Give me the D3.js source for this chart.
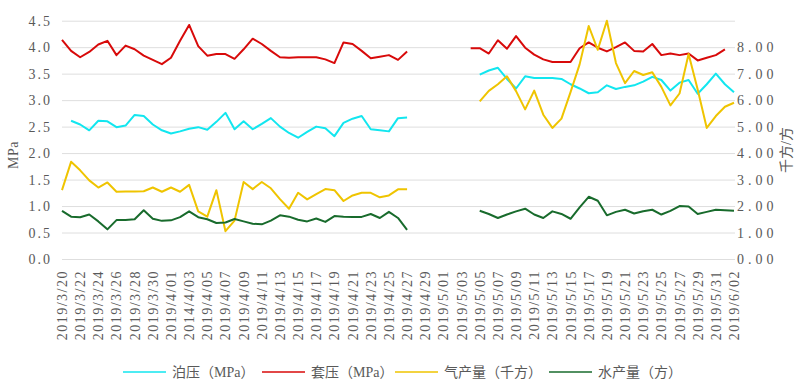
<!DOCTYPE html>
<html>
<head>
<meta charset="utf-8">
<script src="https://cdn.jsdelivr.net/npm/d3@7"></script>
<style>
  body { margin: 0; background: #fff; }
</style>
</head>
<body>
<div id="chart"></div>
<script>
const dates = [
  '2019/3/20','2019/3/21','2019/3/22','2019/3/23','2019/3/24','2019/3/25','2019/3/26','2019/3/27','2019/3/28','2019/3/29','2019/3/30','2019/3/31',
  '2019/4/01','2019/4/02','2019/4/03','2019/4/04','2019/4/05','2019/4/06','2019/4/07','2019/4/08','2019/4/09','2019/4/10',
  '2019/4/11','2019/4/12','2019/4/13','2019/4/14','2019/4/15','2019/4/16','2019/4/17','2019/4/18','2019/4/19','2019/4/20',
  '2019/4/21','2019/4/22','2019/4/23','2019/4/24','2019/4/25','2019/4/26','2019/4/27','2019/4/28','2019/4/29','2019/4/30',
  '2019/5/01','2019/5/02','2019/5/03','2019/5/04','2019/5/05','2019/5/06','2019/5/07','2019/5/08','2019/5/09','2019/5/10',
  '2019/5/11','2019/5/12','2019/5/13','2019/5/14','2019/5/15','2019/5/16','2019/5/17','2019/5/18','2019/5/19','2019/5/20',
  '2019/5/21','2019/5/22','2019/5/23','2019/5/24','2019/5/25','2019/5/26','2019/5/27','2019/5/28','2019/5/29','2019/5/30',
  '2019/5/31','2019/6/01','2019/6/02'
];

// every second date is labelled (the 4/03 label reads 2014 in the source)
const tickLabels = [
  '2019/3/20','2019/3/22','2019/3/24','2019/3/26','2019/3/28','2019/3/30','2019/4/01','2014/4/03','2019/4/05','2019/4/07',
  '2019/4/09','2019/4/11','2019/4/13','2019/4/15','2019/4/17','2019/4/19','2019/4/21','2019/4/23','2019/4/25','2019/4/27',
  '2019/4/29','2019/5/01','2019/5/03','2019/5/05','2019/5/07','2019/5/09','2019/5/11','2019/5/13','2019/5/15','2019/5/17',
  '2019/5/19','2019/5/21','2019/5/23','2019/5/25','2019/5/27','2019/5/29','2019/5/31','2019/6/02'
];

const leftTicks = [0, 0.5, 1, 1.5, 2, 2.5, 3, 3.5, 4, 4.5];
const rightTicks = [0, 1, 2, 3, 4, 5, 6, 7, 8];

// 泊压 (MPa, left axis)
const tubing = [
  null, 2.61, 2.54, 2.43, 2.61, 2.60, 2.49, 2.52, 2.72, 2.70, 2.54, 2.43, 2.37, 2.41, 2.46, 2.49, 2.44, 2.59, 2.76, 2.45,
  2.60, 2.45, 2.55, 2.66, 2.50, 2.38, 2.29, 2.40, 2.50, 2.47, 2.32, 2.57, 2.65, 2.70, 2.45, 2.43, 2.41, 2.66, 2.67,
  null, null, null, null, null, null, null,
  3.48, 3.56, 3.61, 3.40, 3.22, 3.45, 3.42, 3.42, 3.42, 3.40, 3.30, 3.22, 3.13, 3.15, 3.28,
  3.21, 3.25, 3.28, 3.35, 3.44, 3.38, 3.18, 3.33, 3.38, 3.12, 3.30, 3.50, 3.30, 3.15
];

// 套压 (MPa, left axis)
const casing = [
  4.14, 3.93, 3.81, 3.91, 4.05, 4.12, 3.85, 4.03, 3.96, 3.84, 3.76, 3.68, 3.80, 4.12, 4.42, 4.02, 3.84, 3.87, 3.87, 3.78,
  3.96, 4.16, 4.06, 3.93, 3.81, 3.80, 3.81, 3.81, 3.81, 3.77, 3.70, 4.09, 4.06, 3.93, 3.79, 3.82, 3.85, 3.76, 3.92,
  null, null, null, null, null, null,
  3.98, 3.98, 3.88, 4.13, 3.97, 4.21, 3.99, 3.86, 3.77, 3.72, 3.72, 3.72, 3.98, 4.09, 3.99,
  3.92, 4.00, 4.09, 3.93, 3.92, 4.06, 3.85, 3.88, 3.85, 3.88, 3.75, 3.80, 3.85, 3.96, null
];

// 气产量 (千方, right axis)
const gas = [
  2.60, 3.67, 3.35, 2.97, 2.70, 2.89, 2.54, 2.55, 2.55, 2.56, 2.70, 2.54, 2.70, 2.54, 2.80, 1.80, 1.60, 2.60, 1.05, 1.45,
  2.91, 2.64, 2.91, 2.67, 2.26, 1.90, 2.50, 2.25, 2.45, 2.64, 2.60, 2.19, 2.40, 2.50, 2.50, 2.33, 2.40, 2.63, 2.63,
  null, null, null, null, null, null, null,
  5.95, 6.35, 6.60, 6.90, 6.34, 5.65, 6.36, 5.45, 4.95, 5.30, 6.30, 7.35, 8.80, 7.90, 9.00,
  7.40, 6.64, 7.10, 6.95, 7.05, 6.50, 5.80, 6.25, 7.74, 6.40, 4.95, 5.40, 5.75, 5.90
];

// 水产量 (方, right axis)
const water = [
  1.82, 1.60, 1.58, 1.68, 1.42, 1.12, 1.47, 1.47, 1.50, 1.84, 1.52, 1.44, 1.46, 1.58, 1.80, 1.58, 1.50, 1.36, 1.38, 1.51,
  1.42, 1.33, 1.31, 1.45, 1.65, 1.60, 1.48, 1.42, 1.53, 1.40, 1.62, 1.60, 1.59, 1.59, 1.70, 1.55, 1.78, 1.55, 1.10,
  null, null, null, null, null, null, null,
  1.82, 1.70, 1.55, 1.68, 1.80, 1.90, 1.68, 1.55, 1.80, 1.70, 1.52, 1.95, 2.35, 2.20, 1.65,
  1.78, 1.86, 1.72, 1.80, 1.86, 1.68, 1.82, 2.00, 1.98, 1.70, 1.78, 1.86, 1.84, 1.82
];

const series = [
  {name: '泊压（MPa）', values: tubing, axis: 'left', color: '#12e6ef'},
  {name: '套压（MPa）', values: casing, axis: 'left', color: '#d80a0a'},
  {name: '气产量（千方）', values: gas, axis: 'right', color: '#efc400'},
  {name: '水产量（方）', values: water, axis: 'right', color: '#186b2c'}
];

const FONT = '"Liberation Serif", "Noto Sans CJK SC", serif';
const width = 800, height = 388;
const plot = {left: 62, right: 735, top: 20.7, bottom: 259};

const svg = d3.select('#chart').append('svg')
  .attr('width', width)
  .attr('height', height)
  .style('font-family', FONT);

let x = d3.scalePoint().domain(dates).range([62, 734]),
  yL = d3.scaleLinear().domain([0, 4.5]).range([plot.bottom, plot.top]),
  yR = d3.scaleLinear().domain([0, 9]).range([plot.bottom, plot.top]);

function styleText(sel, size, spacing) {
  sel.attr('fill', '#595959')
    .style('font-family', FONT)
    .style('font-size', size + 'px')
    .style('letter-spacing', spacing + 'px');
}

// gridlines + left labels
let leftAxis = svg.append('g')
  .attr('transform', 'translate(' + plot.left + ',0)')
  .call(d3.axisLeft(yL).tickValues(leftTicks).tickFormat(d3.format('.1f'))
    .tickSize(-(plot.right - plot.left)).tickPadding(10));
leftAxis.select('.domain').remove();
leftAxis.selectAll('line').attr('stroke', '#dedede');
styleText(leftAxis.selectAll('text'), 14, 2);

let rightAxis = svg.append('g')
  .attr('transform', 'translate(' + plot.right + ',0)')
  .call(d3.axisRight(yR).tickValues(rightTicks).tickFormat(d3.format('.2f'))
    .tickSize(0).tickPadding(2));
rightAxis.select('.domain').remove();
styleText(rightAxis.selectAll('text'), 14, 4);

// x labels, every other day
let evenDates = dates.filter((d, i) => i % 2 === 0);
let xAxis = svg.append('g')
  .attr('transform', 'translate(0,' + plot.bottom + ')')
  .call(d3.axisBottom(x).tickValues(evenDates).tickFormat((d, i) => tickLabels[i]).tickSize(0));
xAxis.select('.domain').remove();
styleText(xAxis.selectAll('text'), 14, 1.5);
xAxis.selectAll('text')
  .attr('text-anchor', 'end')
  .attr('dy', null)
  .attr('y', 0)
  .attr('dominant-baseline', 'central')
  .attr('transform', 'translate(0,11) rotate(-90)');

// axis titles
styleText(svg.append('text')
  .attr('transform', 'translate(13,155) rotate(-90)')
  .attr('text-anchor', 'middle')
  .attr('dominant-baseline', 'central')
  .text('MPa'), 14, 0.5);

styleText(svg.append('text')
  .attr('transform', 'translate(786,150) rotate(-90)')
  .attr('text-anchor', 'middle')
  .attr('dominant-baseline', 'central')
  .text('千方/方'), 14, 0);

// lines
series.forEach((s) => {
  let y = s.axis === 'left' ? yL : yR;
  let line = d3.line()
    .defined((d) => d != null)
    .x((d, i) => x(dates[i]))
    .y((d) => y(d));
  svg.append('path')
    .datum(s.values)
    .attr('fill', 'none')
    .attr('stroke', s.color)
    .attr('stroke-width', 2)
    .attr('stroke-linejoin', 'round')
    .attr('d', line);
});

// legend
const legendX = [123, 262, 395, 549];
let legend = svg.append('g').attr('transform', 'translate(0,372)');
series.forEach((s, i) => {
  legend.append('line')
    .attr('x1', legendX[i]).attr('x2', legendX[i] + 43)
    .attr('stroke', s.color)
    .attr('stroke-width', 1.6);
  styleText(legend.append('text')
    .attr('x', legendX[i] + 49)
    .attr('dominant-baseline', 'central')
    .text(s.name), 14, 0);
});
</script>
</body>
</html>
